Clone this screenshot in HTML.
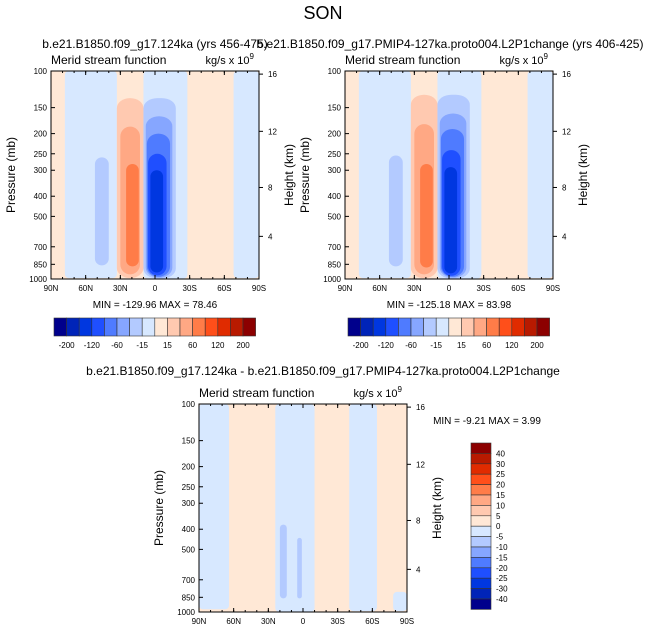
<!DOCTYPE html>
<html><head><meta charset="utf-8"><style>
body{margin:0;background:#fff;font-family:"Liberation Sans",sans-serif}
svg text{font-family:"Liberation Sans",sans-serif;fill:#000}
</style></head><body>
<svg id="s" width="647" height="635" viewBox="0 0 647 635" xmlns="http://www.w3.org/2000/svg">
<text x="323" y="19" font-size="18" text-anchor="middle">SON</text>
<text x="155" y="48" font-size="12" text-anchor="middle">b.e21.B1850.f09_g17.124ka (yrs 456-475)</text>
<text x="450" y="48" font-size="12" text-anchor="middle">b.e21.B1850.f09_g17.PMIP4-127ka.proto004.L2P1change (yrs 406-425)</text>
<text x="323" y="375" font-size="12" text-anchor="middle">b.e21.B1850.f09_g17.124ka - b.e21.B1850.f09_g17.PMIP4-127ka.proto004.L2P1change</text>
</svg>
<script>
const colors=["#00008c","#0024b8","#0037e0","#1f4fff","#4f7bff","#86a6ff","#b3caff","#d7e8ff","#ffe8d6","#ffc9b0","#ffa884","#ff7c48","#ff4f1a","#e02b00","#b81a00","#8c0000"];
const pTicks=[100,150,200,250,300,400,500,700,850,1000];
const latTicks=[90,60,30,0,-30,-60,-90];
const latLabels=["90N","60N","30N","0","30S","60S","90S"];
const kmTicks=[4,8,12,16];
const kmPos=[0.795,0.56,0.29,0.015];
const hLabels=["-200","-120","-60","-15","15","60","120","200"];
const vLabels=["40","30","25","20","15","10","5","0","-5","-10","-15","-20","-25","-30","-40"];
// blobs: [latNorth, latSouth, pTop, pBottom, colorIndex]
const blobs1=[[78,33,100,990,7],[10,-28,100,995,7],[-68,-90,100,990,7],[52,40,260,860,6],
[33,10,135,990,9],[30,13,185,950,10],[25,14,280,870,11],
[10,-18,135,995,6],[8,-15,165,985,5],[7,-13,200,975,4],[6,-10,250,960,3],[4,-7,300,930,2]];
const blobs2=[[78,33,100,990,7],[10,-28,100,995,7],[-68,-90,100,990,7],[52,40,255,870,6],
[33,10,130,990,9],[30,13,180,950,10],[25,14,280,880,11],
[10,-18,130,995,6],[8,-15,160,985,5],[7,-13,190,975,4],[6,-10,240,965,3],[4,-7,290,940,2]];
const blobs3=[[90,64,100,970,7],[24,-10,100,1000,7],[-40,-64,100,990,7],[-78,-90,800,990,7],
[20,14,380,860,6],[5,1,440,860,6]];
const NS="http://www.w3.org/2000/svg";
const svg=document.getElementById('s');
function mk(t,a,p){const e=document.createElementNS(NS,t);for(const k in a)e.setAttribute(k,a[k]);(p||svg).appendChild(e);return e;}
function panel(px,py,blobs,name){
 const w=208,h=208;
 const X=lat=>px+(90-lat)/180*w;
 const Y=p=>py+Math.log10(p/100)*h;
 const g=mk('g',{});
 
 
 const bg=mk('rect',{x:px,y:py,width:w,height:h,fill:colors[8]},g);
 
 
 blobs.forEach(b=>{
  const x1=X(b[0]),x2=X(b[1]),y1=Y(b[2]),y2=Y(b[3]);
  const r=b[4]===7?4:Math.min((x2-x1)/2,14);
  const e=mk('rect',{x:x1,y:y1,width:x2-x1,height:y2-y1,rx:r,ry:Math.min(r,10),fill:colors[b[4]]},g);
  
  
 });
 const fr=mk('rect',{x:px,y:py,width:w,height:h,fill:'none',stroke:'#000','stroke-width':1},g);
 
 
 pTicks.forEach(p=>{const y=Y(p);mk('line',{x1:px,x2:px+4,y1:y,y2:y,stroke:'#000'},g);
  const t=mk('text',{x:px-4,y:y+3,'font-size':8,'text-anchor':'end'},g);t.textContent=p;
  
  });
 latTicks.forEach((l,i)=>{const x=X(l);mk('line',{x1:x,x2:x,y1:py+h,y2:py+h-4,stroke:'#000'},g);
  mk('line',{x1:x,x2:x,y1:py,y2:py+4,stroke:'#000'},g);
  const t=mk('text',{x:x,y:py+h+12,'font-size':8,'text-anchor':'middle'},g);t.textContent=latLabels[i];
  
  });
 for(let l=80;l>-90;l-=10){const x=X(l);mk('line',{x1:x,x2:x,y1:py+h,y2:py+h-2,stroke:'#000'},g);mk('line',{x1:x,x2:x,y1:py,y2:py+2,stroke:'#000'},g);}
 kmTicks.forEach((k,i)=>{const y=py+kmPos[i]*h;mk('line',{x1:px+w,x2:px+w+4,y1:y,y2:y,stroke:'#000'},g);
  const t=mk('text',{x:px+w+9,y:y+3,'font-size':8},g);t.textContent=k;
  
  });
 let t=mk('text',{transform:`translate(${px-36},${py+h/2}) rotate(-90)`,'font-size':12,'text-anchor':'middle'},g);t.textContent='Pressure (mb)';
 
 
 t=mk('text',{transform:`translate(${px+w+34},${py+h/2}) rotate(-90)`,'font-size':12,'text-anchor':'middle'},g);t.textContent='Height (km)';
 
 
 t=mk('text',{x:px,y:py-7,'font-size':12},g);t.textContent='Merid stream function';
 
 
 t=mk('text',{x:px+w-5,y:py-7,'font-size':11,'text-anchor':'end'},g);t.innerHTML='kg/s x 10<tspan dy="-5" font-size="8">9</tspan>';
 
 
}
function hbar(x0,y0,name){
 const bw=12.6,g=mk('g',{});
 
 
 colors.forEach((c,i)=>{const r=mk('rect',{x:x0+i*bw,y:y0,width:bw,height:18,fill:c,stroke:'#333','stroke-width':0.6},g);
  
  });
 hLabels.forEach((l,i)=>{const t=mk('text',{x:x0+(2*i+1)*bw,y:y0+30,'font-size':8,'text-anchor':'middle'},g);t.textContent=l;
  
  });
}
function stat(x,y,s,name){const t=mk('text',{x:x,y:y,'font-size':10,'text-anchor':'middle'});t.textContent=s;
 
 }
panel(51,71,blobs1,'left-panel');
panel(345,71,blobs2,'right-panel');
panel(199,404,blobs3,'diff-panel');
stat(155,308,'MIN = -129.96  MAX =  78.46','left-min-max');
stat(449,308,'MIN = -125.18  MAX =  83.98','right-min-max');
stat(487,424,'MIN = -9.21  MAX =  3.99','diff-min-max');
hbar(54,318,'left-colorbar');
hbar(348,318,'right-colorbar');
(function(){const x0=471,y0=443,bh=10.4,g=mk('g',{});
 
 
 for(let i=0;i<16;i++){const r=mk('rect',{x:x0,y:y0+i*bh,width:20,height:bh,fill:colors[15-i],stroke:'#333','stroke-width':0.6},g);
  
  }
 vLabels.forEach((l,i)=>{const t=mk('text',{x:x0+25,y:y0+(i+1)*bh+3,'font-size':8},g);t.textContent=l;
  
  });
})();
</script>
</body></html>
